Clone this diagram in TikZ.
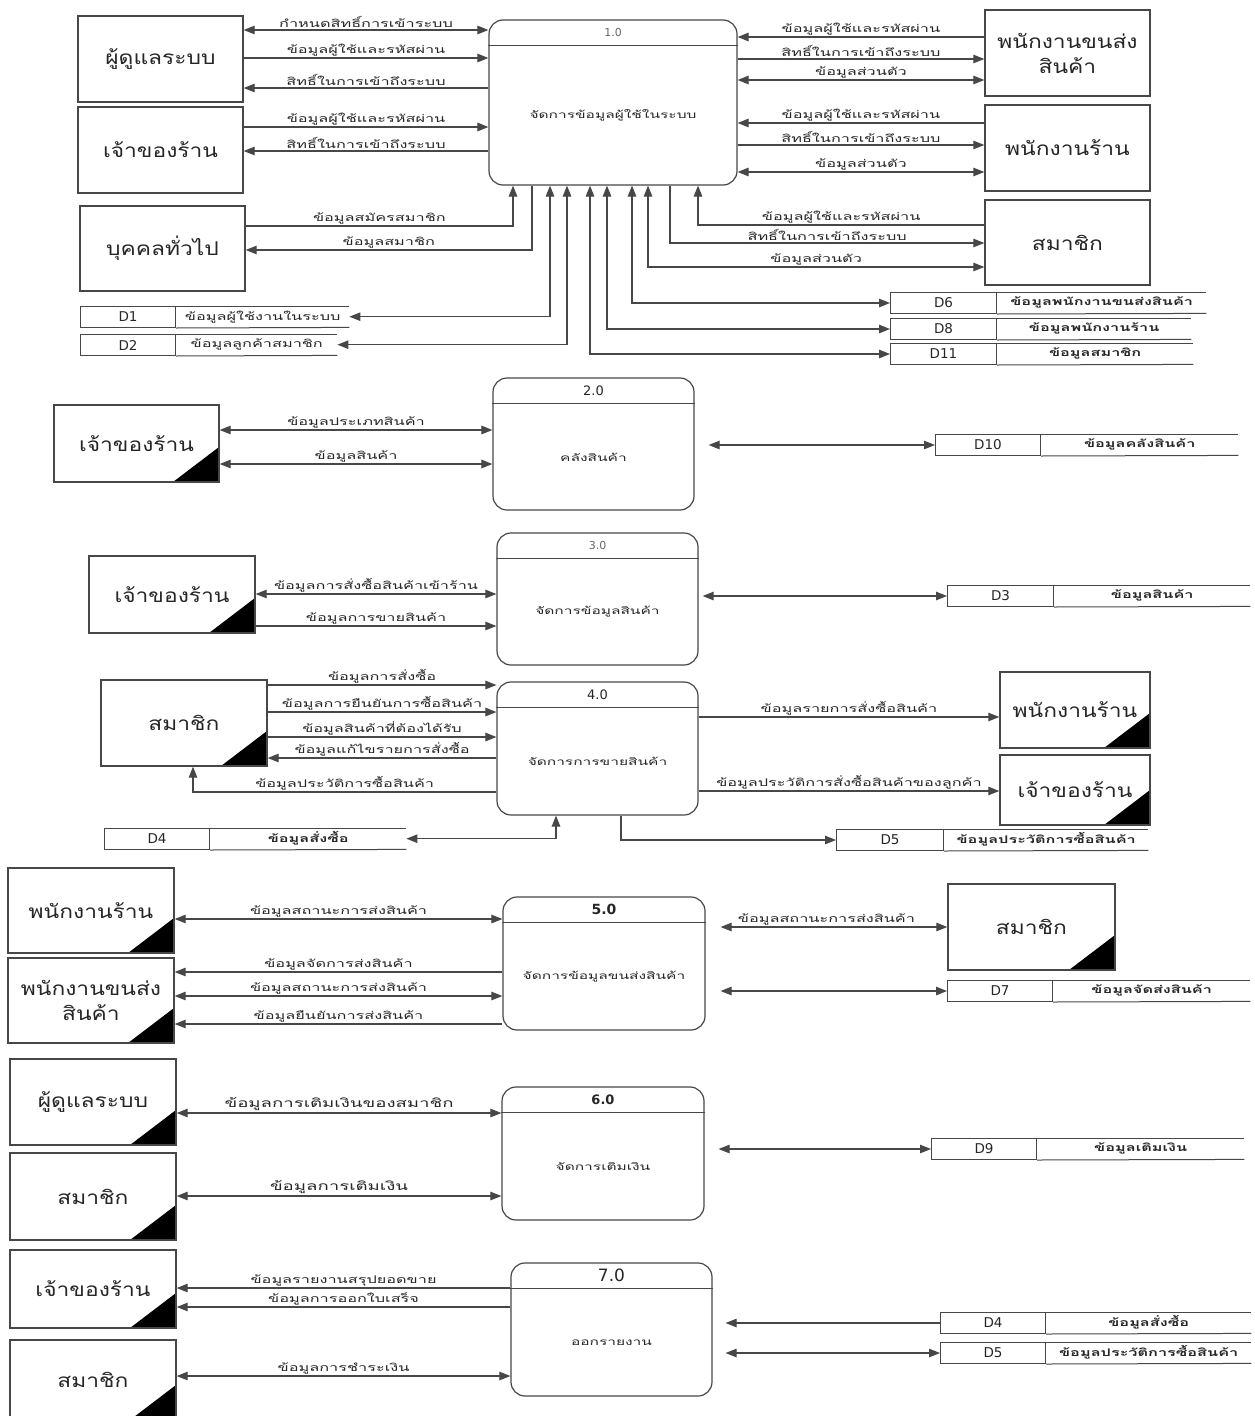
\documentclass[tikz,border=0pt]{standalone}
\usepackage{fontspec}
\setmainfont{Liberation Sans}
\newfontfamily\thaifont[Script=Thai]{Loma}
\newfontfamily\thaient[Script=Thai,FakeStretch=1.2]{Loma}
\newfontfamily\thaiwide[Script=Thai,FakeStretch=1.55]{Loma}
\newfontfamily\idfont{DejaVu Sans}
\usetikzlibrary{arrows.meta,calc}
\newcommand\dstore[7]{%
  \pgfmathsetmacro\dsw{#5-#2-#4}%
  \node[sid, minimum width=#4pt, anchor=north west] (#1) at (#2,#3) {#6};
  \node[sname, minimum width=\dsw pt, anchor=north west] (#1n) at (#1.north east) {#7};
  \draw[sline] (#1.north east) -- (#1n.north east);
  \draw[sline] (#1.south east) -- (#1n.south east);}
\newcommand\mkproc[7]{%
  \node[proc, minimum width=#4pt, minimum height=#5pt] (#1) at (#2,#3) {};
  \draw[ln] ([yshift=-26pt]#1.north west) -- ([yshift=-26pt]#1.north east);
  \node[hdr] (#1h) at ([yshift=-13pt]#1.north) {#6};
  \node[pbody] (#1b) at ([yshift=-13pt]#1.center) {#7};}
\begin{document}
\begin{tikzpicture}[x=1pt,y=-1pt,
  >={Triangle[length=11pt,width=8.5pt]},
  every node/.style={text=black!85},
  ent/.style={draw=black!72, line width=1.4pt, align=center, inner sep=2pt, font=\fontsize{19}{25}\thaient},
  entc/.style={ent, path picture={\fill[black] (path picture bounding box.south east) -- ++(-46pt,0pt) -- ++(46pt,35pt) -- cycle;}},
  proc/.style={draw=black!72, line width=1.2pt, rounded corners=14pt, inner sep=0pt},
  hdr/.style={font=\fontsize{11}{12}\idfont, inner sep=1pt},
  pbody/.style={font=\fontsize{10}{12}\thaiwide, inner sep=1pt},
  sid/.style={draw=black!72, line width=1pt, minimum height=21pt, inner sep=0pt, font=\fontsize{13.5}{14}\idfont},
  sname/.style={minimum height=21pt, inner sep=0pt, font=\fontsize{10.5}{12}\thaiwide\bfseries},
  sline/.style={draw=black!72, line width=1pt},
  lbl/.style={font=\fontsize{10.5}{12}\thaiwide, inner sep=1.5pt},
  lblb/.style={font=\fontsize{12}{13}\thaiwide, inner sep=1.5pt},
  fl/.style={draw=black!72, line width=1.1pt, ->},
  bi/.style={draw=black!72, line width=1.1pt, <->},
  ln/.style={draw=black!72, line width=1.1pt}
]
\fill[white] (0,0) rectangle (1254,1416);
\useasboundingbox (0,0) rectangle (1254,1416);

% ================= Section 1 =================
\node[ent, minimum width=165pt, minimum height=86pt] (e1a) at (160.5,59) {ผู้ดูแลระบบ};
\node[ent, minimum width=165pt, minimum height=86pt] (e1b) at (160.5,150) {เจ้าของร้าน};
\node[ent, minimum width=165pt, minimum height=85pt] (e1c) at (162.5,248.5) {บุคคลทั่วไป};
\node[ent, minimum width=165pt, minimum height=86pt] (e1d) at (1067.5,53) {พนักงานขนส่ง\\สินค้า};
\node[ent, minimum width=165pt, minimum height=86pt] (e1e) at (1067.5,148) {พนักงานร้าน};
\node[ent, minimum width=165pt, minimum height=85pt] (e1f) at (1067.5,242.5) {สมาชิก};
\mkproc{p1}{613}{102.5}{248}{165}{\color{black!60}1.0}{จัดการข้อมูลผู้ใช้ในระบบ}

\dstore{d1}{80}{306}{95}{348}{D1}{\mdseries ข้อมูลผู้ใช้งานในระบบ}
\dstore{d2}{80}{334}{95}{336}{D2}{\mdseries ข้อมูลลูกค้าสมาชิก}
\dstore{d6}{890}{292}{106}{1205}{D6}{ข้อมูลพนักงานขนส่งสินค้า}
\dstore{d8}{890}{318}{106}{1190}{D8}{ข้อมูลพนักงานร้าน}
\dstore{d11}{890}{343}{106}{1192}{D11}{ข้อมูลสมาชิก}

\draw[bi] (e1a.east |- 0,30) -- node[lbl,above] (l101) {กำหนดสิทธิ์การเข้าระบบ} (p1.west |- 0,30);
\draw[fl] (e1a.east |- 0,58) -- node[lbl,above] (l102) {ข้อมูลผู้ใช้และรหัสผ่าน} (p1.west |- 0,58);
\draw[fl] (p1.west |- 0,88) -- node[lbl,above] (l103) {สิทธิ์ในการเข้าถึงระบบ} (e1a.east |- 0,88);
\draw[fl] (e1b.east |- 0,127) -- node[lbl,above] (l104) {ข้อมูลผู้ใช้และรหัสผ่าน} (p1.west |- 0,127);
\draw[fl] (p1.west |- 0,151) -- node[lbl,above] (l105) {สิทธิ์ในการเข้าถึงระบบ} (e1b.east |- 0,151);

\draw[fl] (e1d.west |- 0,37) -- node[lbl,above] (l106) {ข้อมูลผู้ใช้และรหัสผ่าน} (p1.east |- 0,37);
\draw[fl] (p1.east |- 0,59) -- node[lbl,above] (l107) {สิทธิ์ในการเข้าถึงระบบ} (e1d.west |- 0,59);
\draw[bi] (p1.east |- 0,80) -- node[lbl,above] (l108) {ข้อมูลส่วนตัว} (e1d.west |- 0,80);
\draw[fl] (e1e.west |- 0,123) -- node[lbl,above] (l109) {ข้อมูลผู้ใช้และรหัสผ่าน} (p1.east |- 0,123);
\draw[fl] (p1.east |- 0,145) -- node[lbl,above] (l110) {สิทธิ์ในการเข้าถึงระบบ} (e1e.west |- 0,145);
\draw[bi] (p1.east |- 0,172) -- node[lbl,above] (l111) {ข้อมูลส่วนตัว} (e1e.west |- 0,172);

\draw[fl] (e1c.east |- 0,226) -| node[lbl,above,pos=0.25] (l112) {ข้อมูลสมัครสมาชิก} (p1.south -| 513,0);
\draw[fl] (p1.south -| 532,0) |- node[lbl,above,pos=0.75] (l113) {ข้อมูลสมาชิก} (e1c.east |- 0,250);
\draw[bi] (p1.south -| 550,0) |- (d1n.east);
\draw[bi] (p1.south -| 567,0) |- (d2n.east);
\draw[bi] (p1.south -| 590,0) |- (d11.west);
\draw[bi] (p1.south -| 607,0) |- (d8.west);
\draw[bi] (p1.south -| 632,0) |- (d6.west);
\draw[bi] (p1.south -| 648,0) |- node[lbl,above,pos=0.75] (l114) {ข้อมูลส่วนตัว} (e1f.west |- 0,267);
\draw[fl] (p1.south -| 670,0) |- node[lbl,above,pos=0.75] (l115) {สิทธิ์ในการเข้าถึงระบบ} (e1f.west |- 0,243);
\draw[fl] (e1f.west |- 0,225) -| node[lbl,above,pos=0.25] (l116) {ข้อมูลผู้ใช้และรหัสผ่าน} (p1.south -| 698,0);

% ================= Section 2 =================
\node[entc, minimum width=165pt, minimum height=77pt] (e2a) at (136.5,443.5) {เจ้าของร้าน};
\mkproc{p2}{593.5}{444}{201}{132}{\fontsize{13}{13}\selectfont 2.0}{คลังสินค้า}
\dstore{d10}{935}{434}{105}{1237}{D10}{ข้อมูลคลังสินค้า}
\draw[bi] (e2a.east |- 0,430) -- node[lbl,above] (l201) {ข้อมูลประเภทสินค้า} (p2.west |- 0,430);
\draw[bi] (e2a.east |- 0,464) -- node[lbl,above] (l202) {ข้อมูลสินค้า} (p2.west |- 0,464);
\draw[bi, shorten <=14pt] (p2.east |- d10.west) -- (d10.west);

% ================= Section 3 =================
\node[entc, minimum width=166pt, minimum height=77pt] (e3a) at (172,594.5) {เจ้าของร้าน};
\mkproc{p3}{597.5}{599}{201}{132}{\color{black!60}3.0}{จัดการข้อมูลสินค้า}
\dstore{d3}{947}{585}{106}{1249}{D3}{ข้อมูลสินค้า}
\draw[bi] (e3a.east |- 0,594) -- node[lbl,above] (l301) {ข้อมูลการสั่งซื้อสินค้าเข้าร้าน} (p3.west |- 0,594);
\draw[fl] (e3a.east |- 0,626) -- node[lbl,above] (l302) {ข้อมูลการขายสินค้า} (p3.west |- 0,626);
\draw[bi, shorten <=4pt] (p3.east |- d3.west) -- (d3.west);

% ================= Section 4 =================
\node[entc, minimum width=166pt, minimum height=86pt] (e4a) at (184,723) {สมาชิก};
\node[entc, minimum width=150pt, minimum height=76pt] (e4b) at (1075,710) {พนักงานร้าน};
\node[entc, minimum width=150pt, minimum height=70pt] (e4c) at (1075,790) {เจ้าของร้าน};
\mkproc{p4}{597.5}{748.5}{201}{133}{\fontsize{13}{13}\selectfont 4.0}{จัดการการขายสินค้า}
\dstore{d4a}{104}{828}{105}{405}{D4}{ข้อมูลสั่งซื้อ}
\dstore{d5a}{836}{829}{107}{1147}{D5}{ข้อมูลประวัติการซื้อสินค้า}
\draw[fl] (e4a.east |- 0,685) -- node[lbl,above] (l401) {ข้อมูลการสั่งซื้อ} (p4.west |- 0,685);
\draw[fl] (e4a.east |- 0,712) -- node[lbl,above] (l402) {ข้อมูลการยืนยันการซื้อสินค้า} (p4.west |- 0,712);
\draw[fl] (e4a.east |- 0,737) -- node[lbl,above] (l403) {ข้อมูลสินค้าที่ต้องได้รับ} (p4.west |- 0,737);
\draw[fl] (p4.west |- 0,758) -- node[lbl,above] (l404) {ข้อมูลแก้ไขรายการสั่งซื้อ} (e4a.east |- 0,758);
\draw[fl] (p4.west |- 0,792) -| node[lbl,above,pos=0.25] (l405) {ข้อมูลประวัติการซื้อสินค้า} (e4a.south -| 193,0);
\draw[bi] (d4an.east) -| (p4.south -| 556,0);
\draw[fl] (p4.south -| 621,0) |- (d5a.west);
\draw[fl] (p4.east |- 0,717) -- node[lbl,above] (l406) {ข้อมูลรายการสั่งซื้อสินค้า} (e4b.west |- 0,717);
\draw[fl] (p4.east |- 0,791) -- node[lbl,above] (l407) {ข้อมูลประวัติการสั่งซื้อสินค้าของลูกค้า} (e4c.west |- 0,791);

% ================= Section 5 =================
\node[entc, minimum width=166pt, minimum height=85pt] (e5a) at (91,910.5) {พนักงานร้าน};
\node[entc, minimum width=166pt, minimum height=85pt] (e5b) at (91,1000.5) {พนักงานขนส่ง\\สินค้า};
\node[entc, minimum width=167pt, minimum height=86pt] (e5c) at (1031.5,927) {สมาชิก};
\mkproc{p5}{604}{963.5}{202}{133}{\fontsize{14}{14}\selectfont\bfseries 5.0}{จัดการข้อมูลขนส่งสินค้า}
\dstore{d7}{947}{980}{105}{1249}{D7}{ข้อมูลจัดส่งสินค้า}
\draw[bi] (e5a.east |- 0,919) -- node[lbl,above] (l501) {ข้อมูลสถานะการส่งสินค้า} (p5.west |- 0,919);
\draw[fl] (p5.west |- 0,972) -- node[lbl,above] (l502) {ข้อมูลจัดการส่งสินค้า} (e5b.east |- 0,972);
\draw[bi] (e5b.east |- 0,996) -- node[lbl,above] (l503) {ข้อมูลสถานะการส่งสินค้า} (p5.west |- 0,996);
\draw[fl] (p5.west |- 0,1024) -- node[lbl,above] (l504) {ข้อมูลยืนยันการส่งสินค้า} (e5b.east |- 0,1024);
\draw[bi, shorten <=15pt] (p5.east |- 0,927) -- node[lbl,above] (l505) {ข้อมูลสถานะการส่งสินค้า} (e5c.west |- 0,927);
\draw[bi, shorten <=15pt] (p5.east |- d7.west) -- (d7.west);

% ================= Section 6 =================
\node[entc, minimum width=166pt, minimum height=86pt] (e6a) at (93,1102) {ผู้ดูแลระบบ};
\node[entc, minimum width=166pt, minimum height=87pt] (e6b) at (93,1196.5) {สมาชิก};
\mkproc{p6}{603}{1153.5}{202}{133}{\fontsize{13}{13}\selectfont\bfseries 6.0}{จัดการเติมเงิน}
\dstore{d9}{931}{1138}{105}{1243}{D9}{ข้อมูลเติมเงิน}
\draw[bi] (e6a.east |- 0,1113) -- node[lblb,above] (l601) {ข้อมูลการเติมเงินของสมาชิก} (p6.west |- 0,1113);
\draw[bi] (e6b.east |- 0,1196) -- node[lblb,above] (l602) {ข้อมูลการเติมเงิน} (p6.west |- 0,1196);
\draw[bi, shorten <=14pt] (p6.east |- d9.west) -- (d9.west);

% ================= Section 7 =================
\node[entc, minimum width=166pt, minimum height=78pt] (e7a) at (93,1289) {เจ้าของร้าน};
\node[entc, minimum width=166pt, minimum height=80pt] (e7b) at (93,1380) {สมาชิก};
\mkproc{p7}{611.5}{1329.5}{201}{133}{\fontsize{17}{17}\selectfont 7.0}{ออกรายงาน}
\dstore{d4b}{940}{1312}{105}{1250}{D4}{ข้อมูลสั่งซื้อ}
\dstore{d5b}{940}{1342}{105}{1250}{D5}{ข้อมูลประวัติการซื้อสินค้า}
\draw[fl] (p7.west |- 0,1288) -- node[lbl,above] (l701) {ข้อมูลรายงานสรุปยอดขาย} (e7a.east |- 0,1288);
\draw[fl] (p7.west |- 0,1307) -- node[lbl,above] (l702) {ข้อมูลการออกใบเสร็จ} (e7a.east |- 0,1307);
\draw[bi] (e7b.east |- 0,1376) -- node[lbl,above] (l703) {ข้อมูลการชำระเงิน} (p7.west |- 0,1376);
\draw[fl, shorten >=13pt] (d4b.west) -- (p7.east |- d4b.west);
\draw[bi, shorten <=13pt] (p7.east |- d5b.west) -- (d5b.west);
\end{tikzpicture}
\end{document}
